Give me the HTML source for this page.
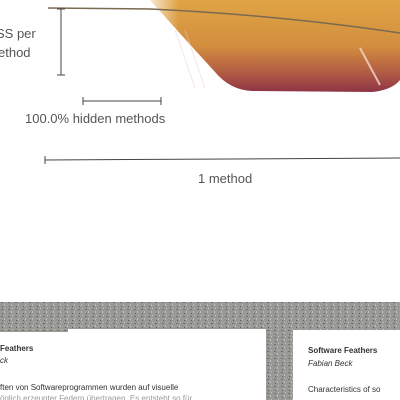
<!DOCTYPE html>
<html><head><meta charset="utf-8"><style>
html,body{margin:0;padding:0;background:#fff;width:400px;height:400px;overflow:hidden}
svg{display:block}
</style></head><body>
<svg width="400" height="400" viewBox="0 0 400 400">
<defs>
<linearGradient id="fg" x1="0" y1="0" x2="0" y2="1">
<stop offset="0" stop-color="#e0a444"/>
<stop offset="0.5" stop-color="#d28e3e"/>
<stop offset="0.8" stop-color="#b05a44"/>
<stop offset="1" stop-color="#8e3446"/>
</linearGradient>
<linearGradient id="fade" x1="0" y1="0" x2="1" y2="0">
<stop offset="0" stop-color="#fff" stop-opacity="1"/>
<stop offset="0.15" stop-color="#fff" stop-opacity="0"/>
</linearGradient>
<pattern id="noise" width="7" height="7" patternUnits="userSpaceOnUse">
<rect width="7" height="7" fill="#999996"/>
<rect x="1" y="1" width="2" height="1" fill="#6e6e6c"/>
<rect x="4" y="3" width="1" height="2" fill="#bdbdbb"/>
<rect x="2" y="5" width="1" height="1" fill="#5a5a58"/>
<rect x="5" y="0" width="1" height="1" fill="#c4c4c2"/>
</pattern>
</defs>
<path d="M150,0 L400,0 L400,80 Q392,90 372,92 L252,91 Q230,90 215,72 Q182,36 150,0 Z" fill="url(#fg)"/>
<rect x="140" y="0" width="260" height="95" fill="url(#fade)"/>
<path d="M360,48 L380,85" stroke="#f6d8d0" stroke-width="2" opacity="0.8"/>
<path d="M175,30 L195,88 M185,30 L205,88" stroke="#f0c8c8" stroke-width="1" opacity="0.5"/>
<path d="M48,8 L150,9 Q280,15 400,33" stroke="#7a6a50" stroke-width="1.5" fill="none"/>
<g stroke="#444" stroke-width="1">
<line x1="61" y1="9" x2="61" y2="75"/><line x1="57" y1="9" x2="65" y2="9"/><line x1="57" y1="75" x2="65" y2="75"/>
</g>
<g font-family="Liberation Sans, sans-serif" font-size="13" fill="#555">
<text x="-4" y="38">SS per</text>
<text x="-2" y="57">ethod</text>
<text x="25" y="123">100.0% hidden methods</text>
<text x="198" y="183">1 method</text>
</g>
<g stroke="#444" stroke-width="1">
<line x1="83" y1="101" x2="161" y2="101"/><line x1="83" y1="97" x2="83" y2="105"/><line x1="161" y1="97" x2="161" y2="105"/>
</g>
<g stroke="#444" stroke-width="1">
<line x1="45" y1="160" x2="400" y2="158"/><line x1="45" y1="156" x2="45" y2="164"/>
</g>
<rect x="0" y="302" width="400" height="98" fill="url(#noise)"/>
<rect x="0" y="329" width="266" height="71" fill="#fff"/>
<rect x="0" y="329" width="68" height="3" fill="url(#noise)"/>
<rect x="293" y="330" width="107" height="70" fill="#fff"/>
<g font-family="Liberation Sans, sans-serif" fill="#333">
<text x="0" y="351" font-size="8" font-weight="bold">Feathers</text>
<text x="0" y="363" font-size="8" font-style="italic">ck</text>
<text x="0" y="390" font-size="8">ften von Softwareprogrammen wurden auf visuelle</text>
<text x="0" y="401" font-size="8" fill="#999">öglich erzeugter Federn übertragen. Es entsteht so für</text>
<text x="308" y="353" font-size="8" font-weight="bold">Software Feathers</text>
<text x="308" y="366" font-size="8" font-style="italic">Fabian Beck</text>
<text x="308" y="392" font-size="8">Characteristics of so</text>
</g>
</svg>
</body></html>
